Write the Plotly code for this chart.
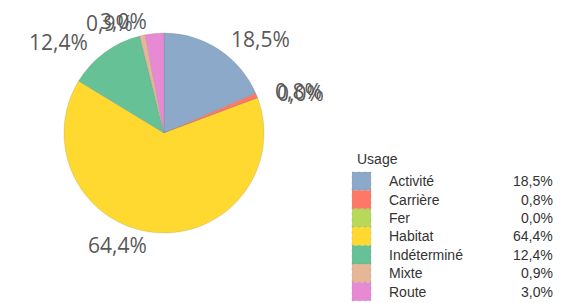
import math
import plotly.graph_objects as go

categories = ["Activité", "Carrière", "Fer", "Habitat", "Indéterminé", "Mixte", "Route"]
shares = [18.5, 0.8, 0.0, 64.4, 12.4, 0.9, 3.0]
colors = ["#8CA9C9", "#FF7866", "#B8D957", "#FFD92F", "#66C296", "#E5B796", "#E78AD3"]
legend_title = "Usage"

W, H = 574, 303


def px_x(X):
    return X / W


def px_y(Y):
    return 1 - Y / H


cx, cy, r = 164, 133, 100  # pie centre / radius in page pixels


def fmt(v):
    return f"{v:.1f}".replace(".", ",") + "%"


fig = go.Figure()
fig.add_trace(go.Pie(
    labels=categories, values=shares, sort=False, direction="clockwise", rotation=0,
    marker=dict(colors=colors, line=dict(color="rgba(120,120,120,0.35)", width=0.6)),
    textinfo="none", hoverinfo="label+percent", showlegend=False,
    domain=dict(x=[px_x(cx - r), px_x(cx + r)], y=[px_y(cy + r), px_y(cy - r)]),
))

annotations = []
total = sum(shares)
cum = 0.0
Rx, Ry = 118, 113
for v in shares:
    mid = (cum + v / 2) / total * 2 * math.pi
    cum += v
    s, c = math.sin(mid), math.cos(mid)
    annotations.append(dict(
        x=px_x(cx + Rx * s - (4 if s < 0 else 0)), y=px_y(cy - Ry * c), xref="paper", yref="paper",
        text=fmt(v), showarrow=False,
        xanchor="left" if s > 0 else "right", yanchor="middle",
        font=dict(family="Open Sans", size=21, color="#595959"),
    ))

lx0, lx1, ltext, lval = 352, 371, 387, 555
row0, rowh = 172, 18.4
lfont = dict(family="Liberation Sans", size=14, color="#333333")
annotations.append(dict(
    x=px_x(355), y=px_y(159), xref="paper", yref="paper", text=legend_title, showarrow=False,
    xanchor="left", yanchor="middle", font=lfont,
))
shapes = []
for i, (cat, v, col) in enumerate(zip(categories, shares, colors)):
    top = row0 + rowh * i
    shapes.append(dict(
        type="rect", xref="paper", yref="paper",
        x0=px_x(lx0), x1=px_x(lx1), y0=px_y(top + rowh), y1=px_y(top),
        fillcolor=col, line=dict(color="rgba(140,140,140,0.5)", width=0.6, dash="dot"),
    ))
    ymid = px_y(top + rowh / 2)
    annotations.append(dict(
        x=px_x(ltext), y=ymid, xref="paper", yref="paper", text=cat, showarrow=False,
        xanchor="left", yanchor="middle", font=lfont,
    ))
    annotations.append(dict(
        x=px_x(lval), y=ymid, xref="paper", yref="paper", text=fmt(v), showarrow=False,
        xanchor="right", yanchor="middle", font=lfont,
    ))

fig.update_layout(
    width=W, height=H, margin=dict(l=0, r=0, t=0, b=0),
    paper_bgcolor="white", plot_bgcolor="white",
    annotations=annotations, shapes=shapes,
)
fig.write_html(
    "out.html",
    config={"displayModeBar": False},
    post_script="document.body.style.margin='0';document.body.style.overflow='hidden';",
)
